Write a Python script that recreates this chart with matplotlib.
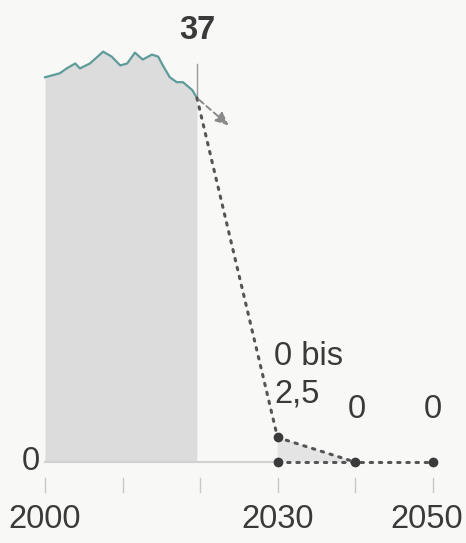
import matplotlib.pyplot as plt
from matplotlib import font_manager

# emissions
years = [2000, 2001.9, 2002.8, 2003.9, 2004.5, 2005.8, 2007.5, 2008.6, 2009.7, 2010.6,
         2011.6, 2012.6, 2013.8, 2014.6, 2015.2, 2016.1, 2017.0, 2017.8, 2019.0, 2019.6]
values = [39.1, 39.5, 40.0, 40.5, 40.0, 40.5, 41.7, 41.2, 40.3, 40.5,
          41.6, 40.9, 41.4, 41.2, 40.3, 39.1, 38.6, 38.6, 37.8, 37.0]

# target path
target_years = [2019.6, 2030]
target_values = [37.0, 2.5]
low_years = [2030, 2040, 2050]
low_values = [0, 0, 0]
trend_end = (2024, 34.0)

tick_years = [2000, 2010, 2020, 2030, 2040, 2050]
tick_labels = {2000: "2000", 2030: "2030", 2050: "2050"}

txt = "#3a3a3a"
names = {f.name for f in font_manager.fontManager.ttflist}
if "Liberation Sans Narrow" in names:
    font = ["Liberation Sans Narrow", "DejaVu Sans"]
    fs = 29
else:
    font = ["Liberation Sans", "DejaVu Sans"]
    fs = 23.5

fig = plt.figure(figsize=(4.66, 5.43), dpi=100)
fig.patch.set_facecolor("#f8f8f6")
ax = fig.add_axes([0, 0, 1, 1])
ax.set_facecolor("#f8f8f6")
ax.set_xlim(1994.19, 2054.32)
ax.set_ylim(-8.23, 46.95)
ax.axis("off")

# history
ax.fill_between(years, values, 0, color="#dcdcdc", lw=0)
ax.plot(years, values, color="#5e9c9a", lw=1.6)

# baseline and ticks
ax.plot([2000, 2030], [0, 0], color="#d0d0d0", lw=1.5)
for t in tick_years:
    ax.plot([t, t], [-1.6, -3.0], color="#c8c8c8", lw=1)
    if t in tick_labels:
        xt = min(t, 2049.2)
        ax.text(xt, -5.8, tick_labels[t], ha="center", va="center",
                fontsize=fs, color=txt, family=font)

# light shading of the range after 2030
ax.fill([2030, 2040, 2030], [2.5, 0, 0], color="#e4e4e4", lw=0)

# vertical marker for 37
ax.plot([years[-1], years[-1]], [values[-1], 40.4], color="#9a9a9a", lw=1)
ax.text(years[-1], 43.8, "37", ha="center", va="center", fontsize=fs,
        color=txt, family=font, fontweight="bold")

# trend arrow
ax.annotate("", xy=trend_end, xytext=(years[-1], values[-1]),
            arrowprops=dict(arrowstyle="-|>,head_length=0.8,head_width=0.35",
                            linestyle=(0, (3, 2)), color="#8a8a8a", lw=1.4))

# dotted path
dot = dict(color="#555555", lw=2.2, linestyle=(0, (0.8, 2.2)), dash_capstyle="round")
ax.plot(target_years, target_values, **dot)
ax.plot([2030, 2040], [2.5, 0], **dot)
ax.plot(low_years, low_values, **dot)
ax.plot([2030], [2.5], "o", color="#3a3a3a", ms=6)
ax.plot(low_years, low_values, "o", color="#3a3a3a", ms=6)

# labels
ax.text(2029.6, 8.8, "0 bis\n2,5", ha="left", va="center", fontsize=fs,
        color=txt, family=font, linespacing=1.25)
ax.text(2040.2, 5.3, "0", ha="center", va="center", fontsize=fs, color=txt, family=font)
ax.text(2050, 5.3, "0", ha="center", va="center", fontsize=fs, color=txt, family=font)
ax.text(1998.2, 0.1, "0", ha="center", va="center", fontsize=fs, color=txt, family=font)

fig.savefig("out.png", dpi=100, facecolor=fig.get_facecolor())
